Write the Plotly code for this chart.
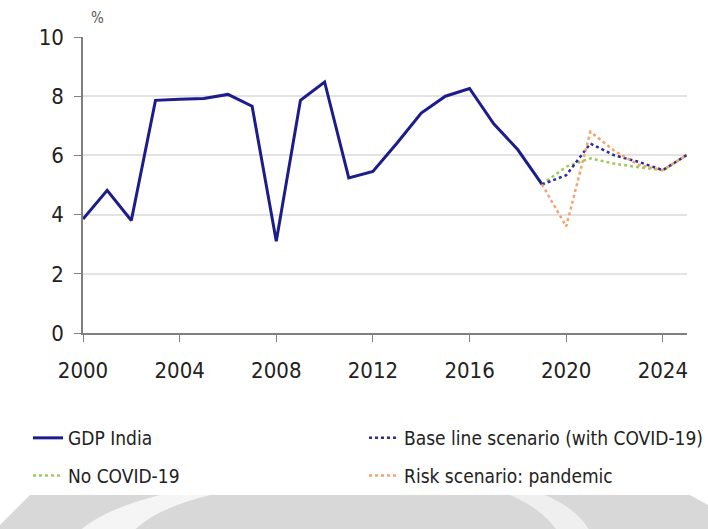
import plotly.graph_objects as go

years_hist = list(range(2000, 2020))
gdp_india = [3.85, 4.82, 3.8, 7.86, 7.9, 7.92, 8.06, 7.66, 3.1, 7.86,
             8.48, 5.24, 5.46, 6.42, 7.43, 8.0, 8.26, 7.07, 6.19, 5.02]

years_fc = list(range(2019, 2026))
base_line = [5.02, 5.33, 6.4, 6.0, 5.78, 5.5, 6.02]
no_covid = [5.02, 5.62, 5.9, 5.72, 5.6, 5.5, 6.02]
risk = [5.02, 3.6, 6.8, 6.15, 5.68, 5.5, 6.02]

x_ticks = [2000, 2004, 2008, 2012, 2016, 2020, 2024]
y_ticks = [0, 2, 4, 6, 8, 10]

FONT = "DejaVu Sans Condensed, Liberation Sans Narrow, sans-serif"

# plot-area geometry (pixels) used only for decorative paper-space shapes
L, R, T, B = 83, 687, 37, 333
W, H = R - L, B - T


def px(x):
    return (x - L) / W


def py(y):
    return (B - y) / H


fig = go.Figure()
fig.add_trace(go.Scatter(x=years_hist, y=gdp_india, mode="lines", name="GDP India",
                         line=dict(color="#1c1c8a", width=3), legend="legend", legendgroup="a"))
fig.add_trace(go.Scatter(x=years_fc, y=no_covid, mode="lines", name="No COVID-19",
                         line=dict(color="#9fcb5a", width=2.5, dash="dot"), legend="legend", legendgroup="b"))
fig.add_trace(go.Scatter(x=years_fc, y=base_line, mode="lines", name="Base line scenario (with COVID-19)",
                         line=dict(color="#2b2b9c", width=2.5, dash="dot"), legend="legend2", legendgroup="c"))
fig.add_trace(go.Scatter(x=years_fc, y=risk, mode="lines", name="Risk scenario: pandemic",
                         line=dict(color="#f5a36a", width=2.5, dash="dot"), legend="legend2", legendgroup="d"))

# decorative grey band at the bottom of the image
band = (f"M {px(30)} {py(495)} L {px(690)} {py(495)} L {px(708)} {py(505)} L {px(708)} {py(540)} "
        f"L {px(0)} {py(540)} L {px(0)} {py(525)} Z")
fig.add_shape(type="path", xref="paper", yref="paper", path=band,
              fillcolor="#d8d8d8", line=dict(width=0), layer="below")
left_arc = (f"M {px(160)} {py(495)} L {px(210)} {py(495)} Q {px(150)} {py(510)} {px(130)} {py(535)} "
            f"L {px(75)} {py(535)} Q {px(100)} {py(510)} {px(160)} {py(495)} Z")
fig.add_shape(type="path", xref="paper", yref="paper", path=left_arc,
              fillcolor="rgba(255,255,255,0.75)", line=dict(width=0), layer="below")
right_arc = (f"M {px(510)} {py(495)} L {px(545)} {py(495)} Q {px(580)} {py(510)} {px(592)} {py(535)} "
             f"L {px(560)} {py(535)} Q {px(545)} {py(510)} {px(510)} {py(495)} Z")
fig.add_shape(type="path", xref="paper", yref="paper", path=right_arc,
              fillcolor="rgba(255,255,255,0.6)", line=dict(width=0), layer="below")

leg_common = dict(orientation="v", yanchor="top", xanchor="left", tracegroupgap=10,
                  font=dict(size=19, family=FONT, color="#222222"), itemwidth=30,
                  bgcolor="rgba(0,0,0,0)")

fig.update_layout(
    width=708, height=529,
    margin=dict(l=L, r=708 - R, t=T, b=529 - B, autoexpand=False),
    plot_bgcolor="white", paper_bgcolor="white",
    font=dict(family=FONT, size=21, color="#222222"),
    showlegend=True,
    legend=dict(x=px(28), y=py(419), **leg_common),
    legend2=dict(x=px(364), y=py(419), **leg_common),
    xaxis=dict(range=[2000, 2025], tickvals=x_ticks, ticktext=[str(v) for v in x_ticks],
               showgrid=False, zeroline=False, showline=True, linecolor="#808080", linewidth=2,
               ticks="outside", ticklen=7, tickcolor="#808080", tickfont=dict(size=22),
               ticklabelstandoff=10),
    yaxis=dict(range=[0, 10], tickvals=y_ticks, showgrid=True, gridcolor="#e3e3e3", gridwidth=1.5,
               zeroline=False, showline=True, linecolor="#808080", linewidth=1.5,
               ticks="outside", ticklen=7, tickcolor="#808080", tickfont=dict(size=22),
               ticklabelstandoff=6),
    annotations=[dict(text="%", xref="paper", yref="paper", x=px(97), y=py(18),
                      showarrow=False, xanchor="center", yanchor="middle",
                      font=dict(size=15, color="#555555"))],
)

fig.write_html("out.html")
